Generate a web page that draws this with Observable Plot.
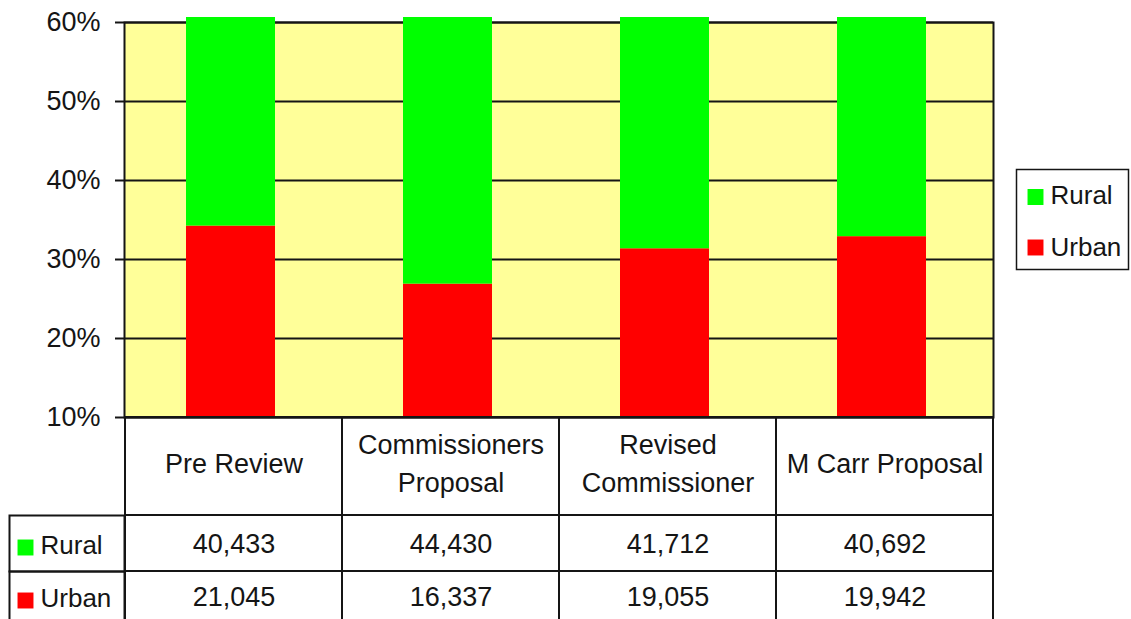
<!DOCTYPE html>
<html>
<head>
<meta charset="utf-8">
<script src="https://cdn.jsdelivr.net/npm/d3@7"></script>
<script src="https://cdn.jsdelivr.net/npm/@observablehq/plot@0.6"></script>
<style>
  html, body { margin: 0; padding: 0; background: #ffffff; }
  #chart svg { display: block; overflow: visible; }
</style>
</head>
<body>
<div id="chart"></div>
<script>
// ---- data ----
const categories = ["Pre Review", "Commissioners\nProposal", "Revised\nCommissioner", "M Carr Proposal"];
const series = ["Rural", "Urban"];
const rural = [40433, 44430, 41712, 40692];
const urban = [21045, 16337, 19055, 19942];
const seriesColors = ["#00ff00", "#ff0000"];
const yTicks = [0.1, 0.2, 0.3, 0.4, 0.5, 0.6];
const yTickLabels = ["10%", "20%", "30%", "40%", "50%", "60%"];

// derived table for the library
const rows = categories.map((c, i) => ({
  cat: c,
  rural: rural[i],
  urban: urban[i],
  share: urban[i] / (urban[i] + rural[i])
}));
const fmt = d3.format(",");
const ink = "#151515";
const lineW = 2;
const T = { lineAnchor: "middle", fill: ink };

const chart = Plot.plot({
  width: 1131,
  height: 619,
  marginLeft: 124,
  marginRight: 138,
  marginTop: 22,
  marginBottom: 202,
  style: { fontFamily: "'Liberation Sans', Arial, sans-serif", fontSize: "27px", color: ink, background: "#ffffff" },
  x: { domain: categories, padding: 0, axis: null },
  y: { domain: [yTicks[0], yTicks[yTicks.length - 1]], clamp: true, axis: null },
  color: { domain: series, range: seriesColors },
  marks: [
    // plot area
    Plot.frame({ fill: "#ffff99", stroke: ink, strokeWidth: lineW }),
    Plot.gridY(yTicks, { stroke: ink, strokeOpacity: 1, strokeWidth: lineW }),
    // bars (100% stacked, clipped to axis range)
    Plot.barY(rows, { x: "cat", y1: 0, y2: "share", fill: () => "Urban", insetLeft: 61, insetRight: 67 }),
    Plot.barY(rows, { x: "cat", y1: "share", y2: 1, fill: () => "Rural", insetLeft: 61, insetRight: 67, insetTop: -5 }),
    // y axis
    Plot.axisY(yTicks, {
      tickSize: 9, tickPadding: 15, strokeWidth: lineW, fontSize: 27,
      tickFormat: (d) => yTickLabels[yTicks.indexOf(d)], label: null
    }),
    // data table: header cells
    Plot.cell(categories, { x: (d) => d, fill: "none", stroke: ink, strokeWidth: lineW, insetTop: 395, insetBottom: -98 }),
    Plot.cell(categories, { x: (d) => d, fill: "none", stroke: ink, strokeWidth: lineW, insetTop: 493, insetBottom: -154 }),
    Plot.cell(categories, { x: (d) => d, fill: "none", stroke: ink, strokeWidth: lineW, insetTop: 549, insetBottom: -212 }),
    // row-label cells
    Plot.frame({ stroke: ink, strokeWidth: lineW, insetLeft: -115, insetRight: 869, insetTop: 493, insetBottom: -154 }),
    Plot.frame({ stroke: ink, strokeWidth: lineW, insetLeft: -115, insetRight: 869, insetTop: 549, insetBottom: -212 }),
    // category labels
    Plot.text(categories, { ...T, x: (d) => d, text: (d) => d, frameAnchor: "bottom", dy: 43.5, lineHeight: 1.42, fontSize: 27 }),
    // values
    Plot.text(rows, { ...T, x: "cat", text: (d) => fmt(d.rural), frameAnchor: "bottom", dy: 126.5, fontSize: 27 }),
    Plot.text(rows, { ...T, x: "cat", text: (d) => fmt(d.urban), frameAnchor: "bottom", dy: 179.5, fontSize: 27 }),
    // row labels with swatches
    Plot.dot(["Rural"], { fill: (d) => d, symbol: "square", r: 9, frameAnchor: "bottom-left", dx: -99, dy: 130 }),
    Plot.dot(["Urban"], { fill: (d) => d, symbol: "square", r: 9, frameAnchor: "bottom-left", dx: -99, dy: 183 }),
    Plot.text(["Rural"], { ...T, text: (d) => d, frameAnchor: "bottom-left", textAnchor: "start", dx: -84, dy: 128, fontSize: 26 }),
    Plot.text(["Urban"], { ...T, text: (d) => d, frameAnchor: "bottom-left", textAnchor: "start", dx: -84, dy: 181, fontSize: 26 }),
    // legend
    Plot.frame({ stroke: ink, strokeWidth: 1.5, insetLeft: 892, insetRight: -135, insetTop: 147, insetBottom: 148 }),
    Plot.dot(["Rural"], { fill: (d) => d, symbol: "square", r: 9, frameAnchor: "top-right", dx: 42, dy: 174.5 }),
    Plot.dot(["Urban"], { fill: (d) => d, symbol: "square", r: 9, frameAnchor: "top-right", dx: 42, dy: 225 }),
    Plot.text(["Rural"], { ...T, text: (d) => d, frameAnchor: "top-right", textAnchor: "start", dx: 57, dy: 173, fontSize: 26 }),
    Plot.text(["Urban"], { ...T, text: (d) => d, frameAnchor: "top-right", textAnchor: "start", dx: 57, dy: 225, fontSize: 26 })
  ]
});
document.getElementById("chart").appendChild(chart);
</script>
</body>
</html>
